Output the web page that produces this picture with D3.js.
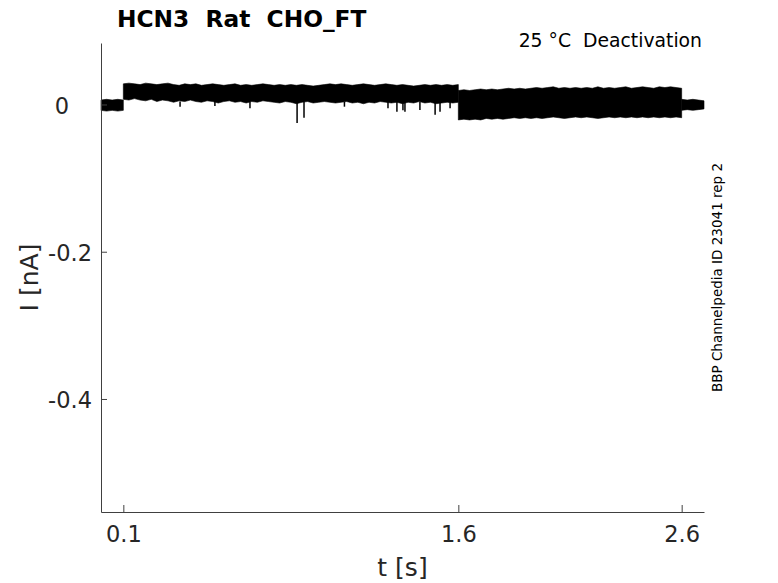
<!DOCTYPE html>
<html>
<head>
<meta charset="utf-8">
<script src="https://cdn.jsdelivr.net/npm/d3@7"></script>
<style>
  html, body { margin: 0; padding: 0; background: #fff; }
  svg { display: block; font-family: "DejaVu Sans", sans-serif; }
</style>
</head>
<body>
<svg id="chart" width="778" height="583"></svg>
<script>
// ---------------- data ----------------
const titleText = "HCN3  Rat  CHO_FT";
const conditionText = "25 \u00B0C  Deactivation";
const sideText = "BBP Channelpedia ID 23041 rep 2";
const xLabel = "t [s]";
const yLabel = "I [nA]";
const xTicks = [0.1, 1.6, 2.6];
const yTicks = [0, -0.2, -0.4];
const xDomain = [0, 2.7];
const yDomain = [-0.5535, 0.0835];

// trace segments sampled every 0.025 s: start times
const segStarts = [0, 0.1, 1.6, 2.6];
const sampleStep = 0.025;

// upper / lower envelope of the noisy current (nA)
const preUpper = [0.006, 0.007, 0.006, 0.007, 0.006];
const preLower = [-0.008, -0.009, -0.008, -0.009, -0.008];

const seg1Upper = [
  0.028,0.029,0.028,0.027,0.029,0.028,0.027,0.028,0.029,0.027,
  0.026,0.028,0.027,0.028,0.026,0.027,0.028,0.027,0.026,0.027,
  0.028,0.026,0.027,0.026,0.027,0.028,0.027,0.026,0.027,0.026,
  0.027,0.026,0.027,0.026,0.025,0.026,0.027,0.028,0.027,0.028,
  0.027,0.026,0.027,0.028,0.027,0.026,0.027,0.028,0.027,0.026,
  0.027,0.026,0.025,0.026,0.027,0.026,0.027,0.026,0.027,0.026,0.027];
const seg1Lower = [
  0.007,0.006,0.008,0.006,0.005,0.007,0.004,0.006,0.005,0.003,
  0.005,0.004,0.006,0.004,0.003,0.005,0.004,0.002,0.004,0.005,
  0.003,0.004,0.002,0.004,0.003,0.005,0.004,0.003,0.002,0.004,
  0.003,0.001,0.003,0.004,0.002,0.003,0.004,0.003,0.002,0.003,
  0.004,0.002,0.003,0.001,0.003,0.002,0.004,0.003,0.002,0.003,
  0.001,0.003,0.002,0.004,0.002,0.003,0.001,0.002,0.003,0.002,0.003];

const seg2Upper = [
  0.019,0.020,0.019,0.020,0.021,0.020,0.021,0.020,0.021,0.022,
  0.021,0.022,0.021,0.022,0.023,0.022,0.023,0.024,0.022,0.023,
  0.022,0.023,0.022,0.023,0.022,0.024,0.022,0.023,0.022,0.023,
  0.024,0.022,0.023,0.024,0.023,0.022,0.024,0.023,0.024,0.023,0.022];
const seg2Lower = [
  -0.021,-0.020,-0.021,-0.020,-0.021,-0.019,-0.020,-0.019,-0.020,-0.019,
  -0.018,-0.019,-0.018,-0.019,-0.018,-0.019,-0.018,-0.017,-0.018,-0.019,
  -0.018,-0.017,-0.018,-0.017,-0.018,-0.019,-0.018,-0.017,-0.018,-0.017,
  -0.018,-0.017,-0.018,-0.017,-0.018,-0.017,-0.018,-0.017,-0.018,-0.017,-0.018];

const postUpper = [0.007, 0.006, 0.007, 0.006, 0.005];
const postLower = [-0.008, -0.007, -0.008, -0.007, -0.006];

// downward transients during the first step
const spikeTimes = [0.354,0.51,0.667,0.878,0.909,1.09,1.285,1.325,1.352,1.361,1.428,1.496,1.518,1.563];
const spikeMins  = [-0.003,-0.002,-0.005,-0.025,-0.018,-0.003,-0.005,-0.010,-0.008,-0.010,-0.0075,-0.014,-0.010,-0.005];
const spikeBase = 0.004;

// ---------------- layout ----------------
const svg = d3.select("#chart");
const margin = {left: 101, top: 43, right: 74, bottom: 71};
const W = 778, H = 583;
const x = d3.scaleLinear().domain(xDomain).range([margin.left, W - margin.right]);
const y = d3.scaleLinear().domain(yDomain).range([H - margin.bottom, margin.top]);
const textColor = "#262626";

// ---------------- trace ----------------
const segments = [
  {u: preUpper, l: preLower},
  {u: seg1Upper, l: seg1Lower},
  {u: seg2Upper, l: seg2Lower},
  {u: postUpper, l: postLower}
];
const area = d3.area()
  .x(d => x(d.t))
  .y0(d => y(d.lo))
  .y1(d => y(d.hi));

segments.forEach((s, i) => {
  const pts = s.u.map((v, k) => ({t: segStarts[i] + k * sampleStep, hi: v, lo: s.l[k]}));
  svg.append("path")
    .datum(pts)
    .attr("d", area)
    .attr("fill", "#000")
    .attr("stroke", "#000")
    .attr("stroke-width", 0.6);
});

svg.append("g").selectAll("line")
  .data(spikeTimes.map((t, i) => ({t, m: spikeMins[i]})))
  .join("line")
  .attr("x1", d => x(d.t)).attr("x2", d => x(d.t))
  .attr("y1", y(spikeBase)).attr("y2", d => y(d.m))
  .attr("stroke", "#000").attr("stroke-width", 1.5);

// ---------------- axes ----------------
const fmt = d => d === 0 ? "0" : d3.format(".1f")(d).replace("\u2212", "-");
const xAxis = d3.axisBottom(x).tickValues(xTicks).tickFormat(fmt)
  .tickSizeInner(-7).tickSizeOuter(0).tickPadding(14);
const gx = svg.append("g")
  .attr("transform", `translate(0,${H - margin.bottom})`)
  .call(xAxis);

const yAxis = d3.axisLeft(y).tickValues(yTicks).tickFormat(fmt)
  .tickSizeInner(-6).tickSizeOuter(0).tickPadding(9);
const gy = svg.append("g")
  .attr("transform", `translate(${margin.left},0)`)
  .call(yAxis);

[gx, gy].forEach(g => {
  g.select(".domain").attr("stroke", "#404040").attr("stroke-width", 1);
  g.selectAll(".tick line").attr("stroke", "#404040").attr("stroke-width", 1);
  g.selectAll(".tick text")
    .attr("fill", textColor)
    .attr("font-family", "DejaVu Sans")
    .attr("font-size", 22.5);
});
gy.selectAll(".tick text").attr("dy", "0.38em").filter(d => d === 0).attr("dx", -23);

// ---------------- texts ----------------
svg.append("text")
  .attr("x", 117).attr("y", 27)
  .attr("font-size", 23.3).attr("font-weight", "bold")
  .attr("fill", "#000")
  .attr("xml:space", "preserve").style("white-space", "pre")
  .text(titleText);

svg.append("text")
  .attr("x", 702).attr("y", 47)
  .attr("text-anchor", "end")
  .attr("font-size", 18.8).attr("fill", "#000")
  .attr("xml:space", "preserve").style("white-space", "pre")
  .text(conditionText);

svg.append("text")
  .attr("transform", `translate(722,${(margin.top + H - margin.bottom) / 2}) rotate(-90)`)
  .attr("text-anchor", "middle")
  .attr("font-size", 13.5).attr("fill", "#000")
  .text(sideText);

svg.append("text")
  .attr("transform", `translate(38,${(margin.top + H - margin.bottom) / 2}) rotate(-90)`)
  .attr("text-anchor", "middle")
  .attr("font-size", 25).attr("fill", textColor)
  .text(yLabel);

svg.append("text")
  .attr("x", (margin.left + W - margin.right) / 2).attr("y", 576)
  .attr("text-anchor", "middle")
  .attr("font-size", 25).attr("fill", textColor)
  .text(xLabel);
</script>
</body>
</html>
